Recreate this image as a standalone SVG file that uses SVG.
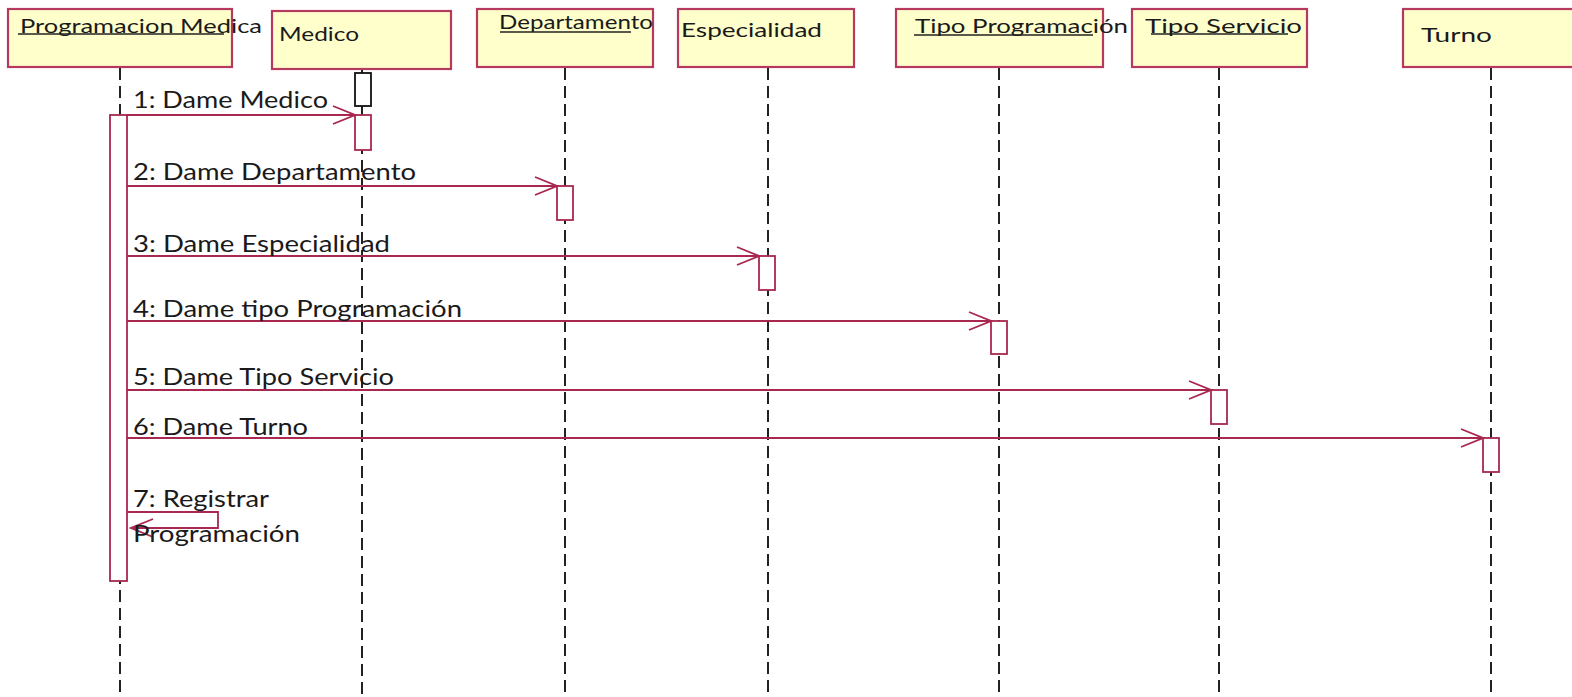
<svg xmlns="http://www.w3.org/2000/svg" width="1572" height="697" viewBox="0 0 1572 697">
<style>
.box{fill:#FFFFCB;stroke:#B63A60;stroke-width:2.2}
.life{stroke:#222;stroke-width:2;stroke-dasharray:12 6;fill:none}
.act{fill:#fff;stroke:#A8284F;stroke-width:1.8}
.act0{fill:#fff;stroke:#111;stroke-width:1.8}
.msg{stroke:#A8284F;stroke-width:1.8;fill:none;marker-end:url(#arr)}
.hd{font-family:Lato,"Open Sans",sans-serif;font-size:20px;fill:#1a1a1a}
.lb{font-family:Lato,"Open Sans",sans-serif;font-size:23.5px;fill:#1a1a1a}
.ul{stroke:#222;stroke-width:1.5}
</style>
<defs>
<marker id="arr" markerUnits="userSpaceOnUse" viewBox="-24 -11 26 22" markerWidth="26" markerHeight="22" refX="0" refY="0" orient="auto">
<path d="M-22,-9 L0,0 L-22,9" fill="none" stroke="#A8284F" stroke-width="1.8"/>
</marker>
</defs>
<g id="lifelines">
<line class="life" x1="120" y1="68" x2="120" y2="697"/>
<line class="life" x1="362" y1="70" x2="362" y2="697"/>
<line class="life" x1="565" y1="68" x2="565" y2="697"/>
<line class="life" x1="768" y1="68" x2="768" y2="697"/>
<line class="life" x1="999" y1="68" x2="999" y2="697"/>
<line class="life" x1="1219" y1="68" x2="1219" y2="697"/>
<line class="life" x1="1491" y1="68" x2="1491" y2="697"/>
<line x1="362" y1="106" x2="362" y2="115" stroke="#222" stroke-width="2"/>
</g>
<g id="n-programacion-medica">
<rect class="box" x="8" y="9" width="224" height="58"/>
<text class="hd" x="20" y="33" textLength="242" lengthAdjust="spacingAndGlyphs">Programacion Medica</text>
<line class="ul" x1="18" y1="34" x2="224" y2="34"/>
</g>
<g id="n-medico">
<rect class="box" x="272" y="11" width="179" height="58"/>
<text class="hd" x="279" y="41" font-size="22" textLength="80" lengthAdjust="spacingAndGlyphs">Medico</text>
</g>
<g id="n-departamento">
<rect class="box" x="477" y="9" width="176" height="58"/>
<text class="hd" x="499" y="29" textLength="154" lengthAdjust="spacingAndGlyphs">Departamento</text>
<line class="ul" x1="500" y1="32" x2="631" y2="32"/>
</g>
<g id="n-especialidad">
<rect class="box" x="678" y="9" width="176" height="58"/>
<text class="hd" x="681" y="37" textLength="141" lengthAdjust="spacingAndGlyphs">Especialidad</text>
</g>
<g id="n-tipo-programacion">
<rect class="box" x="896" y="9" width="207" height="58"/>
<text class="hd" x="915" y="33" textLength="213" lengthAdjust="spacingAndGlyphs">Tipo Programación</text>
<line class="ul" x1="914" y1="35" x2="1093" y2="35"/>
</g>
<g id="n-tipo-servicio">
<rect class="box" x="1132" y="9" width="175" height="58"/>
<text class="hd" x="1145" y="33" textLength="157" lengthAdjust="spacingAndGlyphs">Tipo Servicio</text>
<line class="ul" x1="1151" y1="34" x2="1288" y2="34"/>
</g>
<g id="n-turno">
<rect class="box" x="1403" y="9" width="175" height="58"/>
<text class="hd" x="1421" y="42" font-size="23" textLength="71" lengthAdjust="spacingAndGlyphs">Turno</text>
</g>
<g id="activations">
<rect class="act" x="110" y="115" width="17" height="466"/>
<rect class="act0" x="355" y="73" width="16" height="33"/>
<rect class="act" x="355" y="115" width="16" height="35"/>
<rect class="act" x="557" y="186" width="16" height="34"/>
<rect class="act" x="759" y="256" width="16" height="34"/>
<rect class="act" x="991" y="321" width="16" height="33"/>
<rect class="act" x="1211" y="390" width="16" height="34"/>
<rect class="act" x="1483" y="438" width="16" height="34"/>
</g>
<g id="connectors">
<line class="msg" x1="127" y1="115" x2="355" y2="115"/>
<line class="msg" x1="127" y1="186" x2="557" y2="186"/>
<line class="msg" x1="127" y1="256" x2="759" y2="256"/>
<line class="msg" x1="127" y1="321" x2="991" y2="321"/>
<line class="msg" x1="127" y1="390" x2="1211" y2="390"/>
<line class="msg" x1="127" y1="438" x2="1483" y2="438"/>
<polyline class="msg" points="127,512 218,512 218,528 131,528"/>
</g>
<g id="labels">
<text class="lb" x="133" y="108" textLength="195" lengthAdjust="spacingAndGlyphs">1: Dame Medico</text>
<text class="lb" x="133" y="180" textLength="283" lengthAdjust="spacingAndGlyphs">2: Dame Departamento</text>
<text class="lb" x="133" y="252" textLength="257" lengthAdjust="spacingAndGlyphs">3: Dame Especialidad</text>
<text class="lb" x="133" y="317" textLength="329" lengthAdjust="spacingAndGlyphs">4: Dame tipo Programación</text>
<text class="lb" x="133" y="385" textLength="261" lengthAdjust="spacingAndGlyphs">5: Dame Tipo Servicio</text>
<text class="lb" x="133" y="435" textLength="175" lengthAdjust="spacingAndGlyphs">6: Dame Turno</text>
<text class="lb" x="133" y="507" textLength="136" lengthAdjust="spacingAndGlyphs">7: Registrar</text>
<text class="lb" x="133" y="542" textLength="167" lengthAdjust="spacingAndGlyphs">Programación</text>
</g>
</svg>
